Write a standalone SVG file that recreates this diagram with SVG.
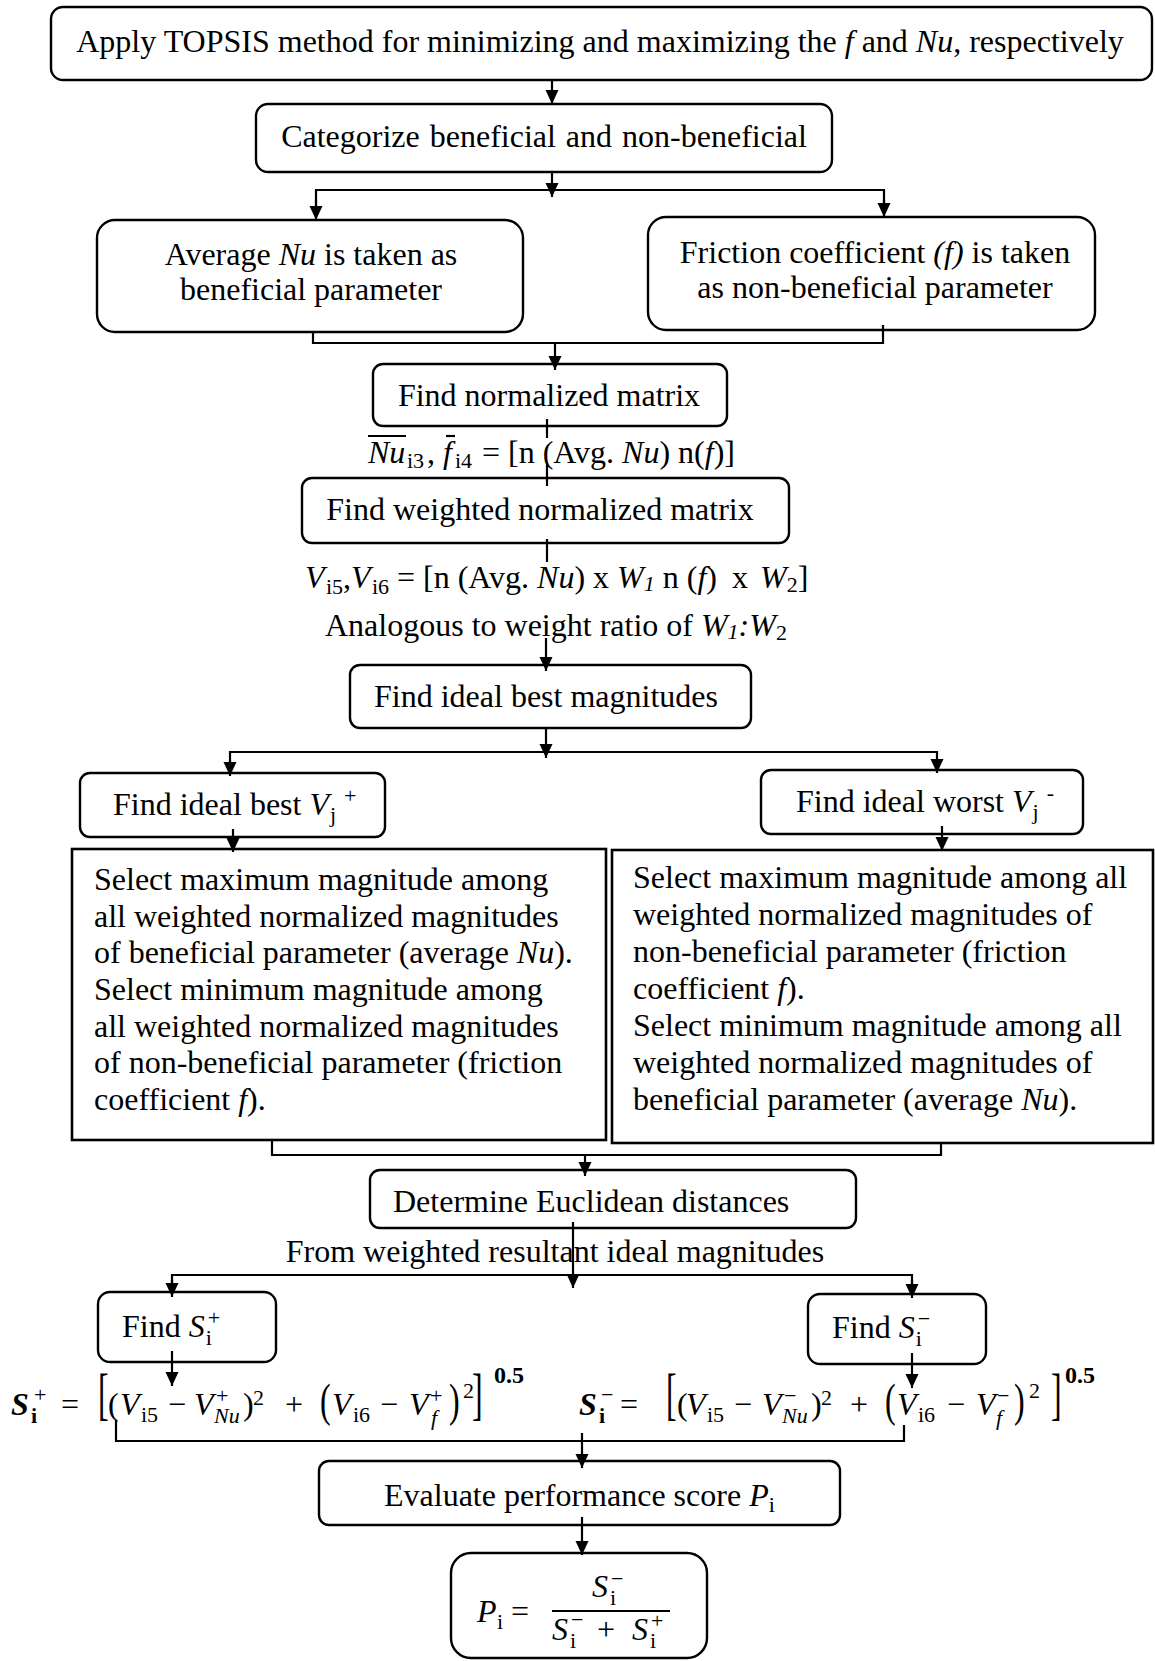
<svg xmlns="http://www.w3.org/2000/svg" width="1155" height="1661" viewBox="0 0 1155 1661">
  <defs>
    <marker id="arr" viewBox="0 0 14 14" refX="14" refY="7" markerWidth="14" markerHeight="14" markerUnits="userSpaceOnUse" orient="auto">
      <path d="M0,0.5 L14,7 L0,13.5 z" fill="#000"/>
    </marker>
    <style>
      .box { fill: #fff; stroke: #000; stroke-width: 2.4; }
      .sq { fill: #fff; stroke: #000; stroke-width: 2.6; }
      .ln { fill: none; stroke: #000; stroke-width: 2.2; }
      .ar { fill: none; stroke: #000; stroke-width: 2.2; marker-end: url(#arr); }
      text { font-family: "Liberation Serif", "Times New Roman", serif; font-size: 32px; fill: #000; }
      .c { text-anchor: middle; }
      .it { font-style: italic; }
      .sub { font-size: 22px; }
      .bd { font-weight: bold; }
      .pw { font-size: 24px; font-weight: bold; }
    </style>
  </defs>

  <!-- nodes -->
  <g id="n-topsis">
    <rect class="box" x="51" y="7" width="1101" height="73" rx="12"/>
    <text class="c" x="600" y="52">Apply TOPSIS method for minimizing and maximizing the <tspan class="it">f</tspan> and <tspan class="it">Nu</tspan>, respectively</text>
  </g>
  <g id="n-categorize">
    <rect class="box" x="256" y="104" width="576" height="68" rx="12"/>
    <text class="c" x="544" y="147" word-spacing="2">Categorize beneficial and non-beneficial</text>
  </g>
  <g id="n-beneficial">
    <rect class="box" x="97" y="220" width="426" height="112" rx="18"/>
    <text class="c" x="311" y="265">Average <tspan class="it">Nu</tspan> is taken as</text>
    <text class="c" x="311" y="300">beneficial parameter</text>
  </g>
  <g id="n-nonbeneficial">
    <rect class="box" x="648" y="217" width="447" height="113" rx="18"/>
    <text class="c" x="875" y="263">Friction coefficient <tspan class="it">(f)</tspan> is taken</text>
    <text class="c" x="875" y="298">as non-beneficial parameter</text>
  </g>
  <g id="n-normalized">
    <rect class="box" x="373" y="364" width="354" height="62" rx="10"/>
    <text class="c" x="549" y="406">Find normalized matrix</text>
  </g>
  <g id="n-normalized-eq">
    <text x="368" y="463"><tspan class="it">Nu</tspan><tspan class="sub" x="407" dy="5">i3</tspan><tspan x="427" dy="-5">,</tspan><tspan class="it" x="443">f</tspan><tspan class="sub" x="455" dy="5">i4</tspan><tspan x="482" dy="-5">= [n (Avg. </tspan><tspan class="it">Nu</tspan><tspan>) n(</tspan><tspan class="it">f</tspan><tspan>)]</tspan></text>
    <line class="ln" x1="368" y1="436" x2="406" y2="436" stroke-width="1.6"/>
    <line class="ln" x1="446" y1="436" x2="455" y2="436" stroke-width="1.6"/>
  </g>
  <g id="n-weighted">
    <rect class="box" x="302" y="478" width="487" height="65" rx="10"/>
    <text class="c" x="540" y="520">Find weighted normalized matrix</text>
  </g>
  <g id="n-weighted-eq">
    <text x="305" y="588"><tspan class="it">V</tspan><tspan class="sub" x="326" dy="6">i5</tspan><tspan x="343" dy="-6">,</tspan><tspan class="it" x="351">V</tspan><tspan class="sub" x="372" dy="6">i6</tspan><tspan x="397" dy="-6">= [n (Avg. </tspan><tspan class="it">Nu</tspan><tspan>) x </tspan><tspan class="it">W</tspan><tspan class="it sub" dy="3">1</tspan><tspan dy="-3"> n (</tspan><tspan class="it">f</tspan><tspan>)</tspan><tspan x="732">x</tspan><tspan class="it" x="760">W</tspan><tspan class="sub" dy="4">2</tspan><tspan dy="-4">]</tspan></text>
    <text x="325" y="636">Analogous to weight ratio of <tspan class="it">W</tspan><tspan class="it sub" dy="3">1</tspan><tspan class="it" dy="-3">:</tspan><tspan class="it">W</tspan><tspan class="sub" dy="4">2</tspan></text>
  </g>
  <g id="n-ideal">
    <rect class="box" x="350" y="665" width="401" height="63" rx="10"/>
    <text class="c" x="546" y="707">Find ideal best magnitudes</text>
  </g>
  <g id="n-best">
    <rect class="box" x="80" y="773" width="305" height="64" rx="10"/>
    <text x="113" y="815">Find ideal best <tspan class="it">V</tspan><tspan class="sub" dx="1" dy="7">j</tspan><tspan class="sub" dx="8" dy="-19">+</tspan></text>
  </g>
  <g id="n-worst">
    <rect class="box" x="761" y="770" width="322" height="64" rx="10"/>
    <text x="796" y="812">Find ideal worst <tspan class="it">V</tspan><tspan class="sub" dx="1" dy="7">j</tspan><tspan class="sub" dx="8" dy="-19">-</tspan></text>
  </g>
  <g id="n-best-rule">
    <rect class="sq" x="72" y="849" width="534" height="291"/>
    <text x="94" y="890">Select maximum magnitude among</text>
    <text x="94" y="927">all weighted normalized magnitudes</text>
    <text x="94" y="963">of beneficial parameter (average <tspan class="it">Nu</tspan>).</text>
    <text x="94" y="1000">Select minimum magnitude among</text>
    <text x="94" y="1037">all weighted normalized magnitudes</text>
    <text x="94" y="1073">of non-beneficial parameter (friction</text>
    <text x="94" y="1110">coefficient <tspan class="it">f</tspan>).</text>
  </g>
  <g id="n-worst-rule">
    <rect class="sq" x="612" y="850" width="541" height="293"/>
    <text x="633" y="888">Select maximum magnitude among all</text>
    <text x="633" y="925">weighted normalized magnitudes of</text>
    <text x="633" y="962">non-beneficial parameter (friction</text>
    <text x="633" y="999">coefficient <tspan class="it">f</tspan>).</text>
    <text x="633" y="1036">Select minimum magnitude among all</text>
    <text x="633" y="1073">weighted normalized magnitudes of</text>
    <text x="633" y="1110">beneficial parameter (average <tspan class="it">Nu</tspan>).</text>
  </g>
  <g id="n-euclid">
    <rect class="box" x="370" y="1170" width="486" height="58" rx="10"/>
    <text x="393" y="1212">Determine Euclidean distances</text>
    <text class="c" x="555" y="1262">From weighted resultant ideal magnitudes</text>
  </g>
  <g id="n-splus">
    <rect class="box" x="98" y="1292" width="178" height="70" rx="12"/>
    <text x="122" y="1337">Find <tspan class="it">S</tspan><tspan class="sub" dx="1" dy="8">i</tspan><tspan class="sub" dx="-4" dy="-20">+</tspan></text>
  </g>
  <g id="n-sminus">
    <rect class="box" x="808" y="1294" width="178" height="70" rx="12"/>
    <text x="832" y="1338">Find <tspan class="it">S</tspan><tspan class="sub" dx="1" dy="8">i</tspan><tspan class="sub" dx="-4" dy="-20">−</tspan></text>
  </g>
  <g id="n-splus-eq">
    <text y="1415"><tspan class="it bd" x="11">S</tspan><tspan class="bd sub" x="31" y="1423">i</tspan><tspan class="sub" x="34" y="1402">+</tspan><tspan x="61" y="1415">=</tspan><tspan x="108">(</tspan><tspan class="it" x="120">V</tspan><tspan class="sub" x="141" y="1422">i5</tspan><tspan x="168" y="1415">−</tspan><tspan class="it" x="194">V</tspan><tspan class="sub" x="216" y="1403">+</tspan><tspan class="it sub" x="214" y="1423">Nu</tspan><tspan x="243" y="1415">)</tspan><tspan class="sub" x="253" y="1405">2</tspan><tspan x="285" y="1415">+</tspan><tspan class="it" x="332">V</tspan><tspan class="sub" x="353" y="1422">i6</tspan><tspan x="380" y="1415">−</tspan><tspan class="it" x="409">V</tspan><tspan class="sub" x="430" y="1403">+</tspan><tspan class="it sub" x="431" y="1425">f</tspan><tspan class="sub" x="463" y="1398">2</tspan><tspan class="pw" x="494" y="1383">0.5</tspan></text>
    <text transform="translate(98,1413) scale(1,1.8)">[</text>
    <text transform="translate(320,1416) scale(1,1.45)">(</text>
    <text transform="translate(449,1416) scale(1,1.45)">)</text>
    <text transform="translate(472,1413) scale(1,1.8)">]</text>
  </g>
  <g id="n-sminus-eq">
    <text y="1415"><tspan class="it bd" x="579">S</tspan><tspan class="bd sub" x="599" y="1423">i</tspan><tspan class="sub" x="601" y="1402">−</tspan><tspan x="620" y="1415">=</tspan><tspan x="677">(</tspan><tspan class="it" x="686">V</tspan><tspan class="sub" x="707" y="1422">i5</tspan><tspan x="734" y="1415">−</tspan><tspan class="it" x="762">V</tspan><tspan class="sub" x="784" y="1403">−</tspan><tspan class="it sub" x="782" y="1423">Nu</tspan><tspan x="811" y="1415">)</tspan><tspan class="sub" x="821" y="1405">2</tspan><tspan x="850" y="1415">+</tspan><tspan class="it" x="897">V</tspan><tspan class="sub" x="918" y="1422">i6</tspan><tspan x="947" y="1415">−</tspan><tspan class="it" x="976">V</tspan><tspan class="sub" x="997" y="1403">−</tspan><tspan class="it sub" x="996" y="1425">f</tspan><tspan class="sub" x="1029" y="1398">2</tspan><tspan class="pw" x="1065" y="1383">0.5</tspan></text>
    <text transform="translate(666,1413) scale(1,1.8)">[</text>
    <text transform="translate(885,1416) scale(1,1.45)">(</text>
    <text transform="translate(1014,1416) scale(1,1.45)">)</text>
    <text transform="translate(1051,1413) scale(1,1.8)">]</text>
  </g>
  <g id="n-score">
    <rect class="box" x="319" y="1461" width="521" height="64" rx="10"/>
    <text x="384" y="1506">Evaluate performance score <tspan class="it">P</tspan><tspan class="sub" dy="6">i</tspan></text>
  </g>
  <g id="n-score-eq">
    <rect class="box" x="451" y="1553" width="256" height="105" rx="20"/>
    <text y="1622"><tspan class="it" x="477">P</tspan><tspan class="sub" x="497" y="1629">i</tspan><tspan x="511" y="1622">=</tspan></text>
    <line class="ln" x1="552" y1="1611" x2="670" y2="1611" stroke-width="2.6"/>
    <text y="1597"><tspan class="it" x="592">S</tspan><tspan class="sub" x="610" y="1605">i</tspan><tspan class="sub" x="611" y="1586">−</tspan></text>
    <text y="1640"><tspan class="it" x="552">S</tspan><tspan class="sub" x="570" y="1648">i</tspan><tspan class="sub" x="571" y="1627">−</tspan><tspan x="597" y="1640">+</tspan><tspan class="it" x="632">S</tspan><tspan class="sub" x="650" y="1648">i</tspan><tspan class="sub" x="651" y="1628">+</tspan></text>
  </g>

  <!-- connectors -->
  <g id="connectors">
    <line class="ar" x1="552" y1="80" x2="552" y2="104"/>
    <line class="ar" x1="552" y1="172" x2="552" y2="197"/>
    <polyline class="ln" points="316,206 316,190 884,190 884,204"/>
    <line class="ar" x1="316" y1="200" x2="316" y2="220"/>
    <line class="ar" x1="884" y1="200" x2="884" y2="217"/>
    <polyline class="ln" points="313,332 313,343 883,343 883,325"/>
    <line class="ar" x1="555" y1="343" x2="555" y2="370"/>
    <line class="ln" x1="547" y1="419" x2="547" y2="438"/>
    <line class="ln" x1="547" y1="463" x2="547" y2="486"/>
    <line class="ln" x1="547" y1="539" x2="547" y2="562"/>
    <line class="ar" x1="546" y1="638" x2="546" y2="671"/>
    <line class="ar" x1="546" y1="728" x2="546" y2="758"/>
    <polyline class="ln" points="230,764 230,752 937,752 937,762"/>
    <line class="ar" x1="230" y1="760" x2="230" y2="776"/>
    <line class="ar" x1="937" y1="760" x2="937" y2="773"/>
    <line class="ar" x1="233" y1="829" x2="233" y2="852"/>
    <line class="ar" x1="942" y1="826" x2="942" y2="851"/>
    <polyline class="ln" points="272,1140 272,1155 941,1155 941,1143"/>
    <line class="ar" x1="585" y1="1155" x2="585" y2="1176"/>
    <line class="ar" x1="573" y1="1222" x2="573" y2="1288"/>
    <polyline class="ln" points="172,1285 172,1275 912,1275 912,1285"/>
    <line class="ar" x1="172" y1="1280" x2="172" y2="1297"/>
    <line class="ar" x1="912" y1="1280" x2="912" y2="1298"/>
    <line class="ar" x1="172" y1="1351" x2="172" y2="1386"/>
    <line class="ar" x1="912" y1="1353" x2="912" y2="1388"/>
    <polyline class="ln" points="116,1420 116,1441 904,1441 904,1425"/>
    <line class="ar" x1="582" y1="1433" x2="582" y2="1468"/>
    <line class="ar" x1="582" y1="1517" x2="582" y2="1555"/>
  </g>
</svg>
